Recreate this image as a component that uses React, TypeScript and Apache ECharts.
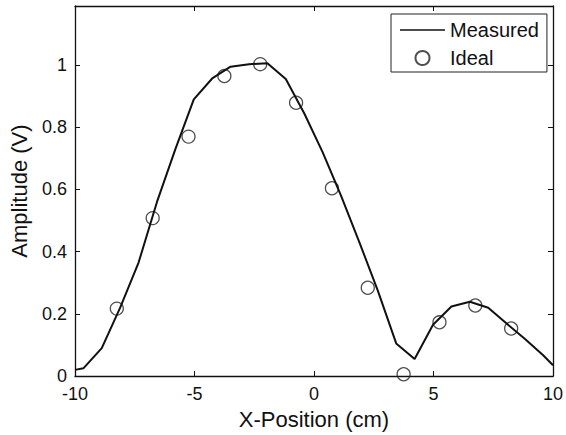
import React, { useEffect, useRef } from "react";
import * as echarts from "echarts";

const measuredX = [-10, -9.65, -8.88, -8.11, -7.34, -6.57, -5.8, -5.03, -4.26, -3.49, -2.72, -1.95, -1.18, -0.41, 0.36, 1.13, 1.9, 2.67, 3.44, 4.21, 4.98, 5.75, 6.52, 7.29, 8.06, 8.83, 9.6, 10];
const measuredY = [0.02, 0.025, 0.09, 0.22, 0.365, 0.56, 0.73, 0.89, 0.957, 0.995, 1.003, 1.006, 0.955, 0.845, 0.72, 0.58, 0.43, 0.275, 0.105, 0.055, 0.165, 0.224, 0.239, 0.22, 0.169, 0.119, 0.066, 0.035];
const idealX = [-8.25, -6.75, -5.25, -3.75, -2.25, -0.75, 0.75, 2.25, 3.75, 5.25, 6.75, 8.25];
const idealY = [0.217, 0.508, 0.77, 0.965, 1.003, 0.879, 0.604, 0.284, 0.006, 0.173, 0.227, 0.153];

const xMin = -10;
const xMax = 10;
const xStep = 5;
const yMin = 0;
const yMax = 1.19;
const yStep = 0.2;

const FONT = "'Liberation Sans', Arial, Helvetica, sans-serif";
const INK = "#111";

export default function App() {
  const ref = useRef<HTMLDivElement>(null);
  useEffect(() => {
    if (!ref.current) return;
    const chart = echarts.init(ref.current, undefined, { renderer: "svg" });
    const tickStyle = { show: true, inside: true, length: 5, lineStyle: { color: INK, width: 1 } };
    const lineStyle = { show: true, onZero: false, lineStyle: { color: INK, width: 1.3 } };
    const yFormatter = (v: number) => {
      const k = Math.round(v / yStep);
      if (Math.abs(k * yStep - v) > 1e-6) return "";
      return String(Number(v.toFixed(1)));
    };
    chart.setOption({
      animation: false,
      backgroundColor: "#fff",
      textStyle: { fontFamily: FONT, color: INK },
      grid: { left: 75, right: 12, top: 6, bottom: 56, containLabel: false },
      legend: {
        orient: "vertical",
        left: 391,
        top: 14,
        padding: [6, 8, 4, 9],
        itemGap: 8,
        itemWidth: 45,
        itemHeight: 14,
        backgroundColor: "#fff",
        borderColor: "#222",
        borderWidth: 1,
        borderRadius: 0,
        textStyle: { fontFamily: FONT, fontSize: 20, color: INK },
        data: [
          { name: "Measured", icon: "path://M0 0 H 45 V 1.6 H 0 Z", itemStyle: { color: INK } },
          { name: "Ideal" },
        ],
      },
      xAxis: [
        {
          type: "value",
          min: xMin,
          max: xMax,
          interval: xStep,
          position: "bottom",
          name: "X-Position (cm)",
          nameLocation: "middle",
          nameGap: 20,
          nameTextStyle: { fontFamily: FONT, fontSize: 22, color: INK },
          axisLine: lineStyle,
          axisTick: tickStyle,
          axisLabel: { fontFamily: FONT, fontSize: 18, color: INK, margin: 9 },
          splitLine: { show: false },
        },
        {
          type: "value",
          min: xMin,
          max: xMax,
          interval: xStep,
          position: "top",
          axisLine: lineStyle,
          axisTick: tickStyle,
          axisLabel: { show: false },
          splitLine: { show: false },
        },
      ],
      yAxis: [
        {
          type: "value",
          min: yMin,
          max: yMax,
          interval: yStep,
          position: "left",
          name: "Amplitude (V)",
          nameLocation: "middle",
          nameGap: 45,
          nameTextStyle: { fontFamily: FONT, fontSize: 22, color: INK },
          axisLine: lineStyle,
          axisTick: tickStyle,
          axisLabel: { fontFamily: FONT, fontSize: 18, color: INK, margin: 8, formatter: yFormatter, showMaxLabel: false },
          splitLine: { show: false },
        },
        {
          type: "value",
          min: yMin,
          max: yMax,
          interval: yStep,
          position: "right",
          axisLine: lineStyle,
          axisTick: tickStyle,
          axisLabel: { show: false },
          splitLine: { show: false },
        },
      ],
      series: [
        {
          name: "Ideal",
          type: "scatter",
          symbol: "circle",
          symbolSize: 13,
          itemStyle: { color: "rgba(255,255,255,0)", borderColor: "#222", borderWidth: 1.3 },
          data: idealX.map((x, i) => [x, idealY[i]]),
          z: 2,
        },
        {
          name: "Measured",
          type: "line",
          symbol: "none",
          showSymbol: false,
          lineStyle: { color: INK, width: 2 },
          itemStyle: { color: INK },
          data: measuredX.map((x, i) => [x, measuredY[i]]),
          z: 3,
        },
      ],
    });
    return () => chart.dispose();
  }, []);
  return (
    <div
      ref={ref}
      style={{ position: "fixed", left: 0, top: 0, width: 566, height: 435, background: "#fff" }}
    />
  );
}
